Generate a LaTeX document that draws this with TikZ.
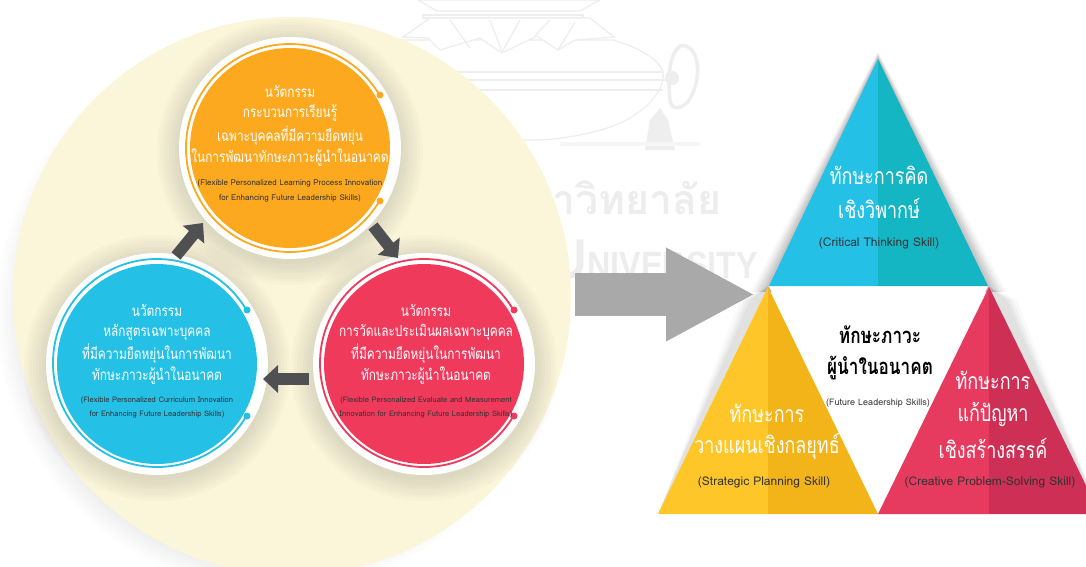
\documentclass[tikz,border=0pt]{standalone}
\usepackage{fontspec}
\setmainfont{Liberation Sans}
\newfontfamily\thaifont[Script=Thai,FakeStretch=0.78]{Loma}
\newfontfamily\wmfont[Script=Thai]{Loma}
\newfontfamily\enfont{Loma}
\newfontfamily\wmlat[FakeStretch=0.85]{Liberation Sans}
\usetikzlibrary{arrows.meta}
\definecolor{cream}{HTML}{FBF6D9}
\definecolor{corange}{HTML}{FCA91F}
\definecolor{cblue}{HTML}{25C0E6}
\definecolor{cteal}{HTML}{15B6C3}
\definecolor{cred}{HTML}{F03A5B}
\definecolor{cyel}{HTML}{FFC629}
\definecolor{cyeld}{HTML}{F2B418}
\definecolor{cpink}{HTML}{E63B5E}
\definecolor{cpinkd}{HTML}{CD2F55}
\definecolor{darrow}{HTML}{505052}
\definecolor{garrow}{HTML}{A9A9A9}
\definecolor{wm}{HTML}{EDEDED}
\definecolor{wmd}{HTML}{EEEEEE}
\definecolor{slate}{HTML}{5A6A80}
\tikzset{
  x=1pt,y=-1pt,
  halo/.style={circle,fill=white,minimum size=222pt,inner sep=0pt},
  disc/.style={circle,fill=#1,minimum size=200pt,inner sep=0pt},
  ringline/.style={draw=#1,line width=1.8pt},
  dotmark/.style={circle,fill=#1,minimum size=7pt,inner sep=0pt},
  th/.style={font=\thaifont\fontsize{15.2}{15.2}\selectfont,text=white,inner sep=0pt,anchor=center},
  en/.style={font=\enfont\fontsize{8}{8}\selectfont,text=black!80,inner sep=0pt,anchor=center},
  ens/.style={font=\enfont\fontsize{7.6}{7.6}\selectfont,text=black!80,inner sep=0pt,anchor=center},
  tth/.style={font=\thaifont\fontsize{23}{23}\selectfont,text=white,inner sep=0pt,anchor=center},
  cth/.style={font=\thaifont\bfseries\fontsize{22}{22}\selectfont,text=black,inner sep=0pt,anchor=center},
  ten/.style={font=\enfont\fontsize{12}{12}\selectfont,text=black!80,inner sep=0pt,anchor=center},
  darr/.style={line width=11.5pt,draw=darrow,-{Triangle[length=15pt,width=27pt]}},
  garr/.style={line width=43pt,draw=garrow,-{Triangle[length=89pt,width=87pt]}},
  seal/.style={draw=wmd,line width=1.3pt,fill=white},
}
\newcommand{\ringarc}[3]{%
  \draw[ringline=#3] (#1,#2) ++(-30:104) arc[start angle=-30,end angle=-330,radius=104];
}
\begin{document}
\begin{tikzpicture}
\useasboundingbox (0,0) rectangle (1086,567);
\begin{scope}
\clip (0,0) rectangle (1086,567);
\fill[white] (0,0) rectangle (1086,567);
% watermark seal
\draw[seal] (418,0) -- (600,0) -- (580,11) -- (437,11) -- cycle;
\draw[seal] (423,15) -- (583,15) -- (583,18) -- (423,18) -- cycle;
\draw[seal] (613,40) .. controls (640,48) and (660,60) .. (663,72) .. controls (666,95) and (635,122) .. (597,131) .. controls (570,138) and (550,140) .. (530,140) -- (380,140) -- (380,40) -- cycle;
\draw[seal] (403,37) -- (430,18) -- (590,18) -- (614,37) -- (575,40) -- (558,50) -- (537,36) -- (502,53) -- (480,38) -- (440,50) -- (428,38) -- cycle;
\draw[wmd,line width=1.3pt] (450,20) -- (470,48) (490,20) -- (502,52) (520,20) -- (502,52) (550,20) -- (535,36) (575,22) -- (558,50);
\draw[wmd,line width=1.6pt] (380,72) -- (663,72) (380,80) -- (665,80) (380,90) -- (663,90);
\draw[wmd,line width=3.5pt] (680,46) .. controls (697,42) and (703,72) .. (692,95) .. controls (684,112) and (670,110) .. (670,100) .. controls (668,80) and (668,56) .. (680,46) -- cycle;
\fill[wmd] (672,78) circle[radius=7];
\fill[wmd] (660,108) -- (668,120) -- (675,150) -- (645,150) -- (650,120) -- cycle;
\fill[wm!50] (560,142) rectangle (700,146);
% watermark text
\node[font=\wmfont\bfseries\fontsize{41}{41}\selectfont,text=wm,anchor=east,inner sep=0pt] (wmth) at (722,198) {มหาวิทยาลัย};
\node[font=\wmlat\bfseries,text=wm,anchor=base east,inner sep=0pt] (wmen) at (758,278) {\fontsize{56}{56}\selectfont U\fontsize{38}{38}\selectfont NIVERSITY};
% soft shadow of the big circle
\foreach \r in {258,261,...,279}{\fill[slate,opacity=.012] (276,312) circle[radius=\r];}
\fill[cream] (292,296) circle[radius=279];
% circle shadows
\foreach \cx/\cy in {290/148,157/364,424/364}{
  \foreach \r in {112,115,...,133}{\fill[black!60!cream,opacity=.022] (\cx,\cy+4) circle[radius=\r];}
}
% white halos and discs
\node[halo] (toph) at (290,148) {};
\node[halo] (lefth) at (157,364) {};
\node[halo] (righth) at (424,364) {};
\node[disc=corange] (topc) at (290,148) {};
\node[disc=cblue] (leftc) at (157,364) {};
\node[disc=cred] (rightc) at (424,364) {};
\ringarc{290}{148}{corange}
\ringarc{157}{363}{cblue}
\ringarc{424}{363}{cred}
\node[dotmark=corange] (t1) at (380,95) {};
\node[dotmark=corange] (t2) at (380,201) {};
\node[dotmark=cblue] (l1) at (247,310) {};
\node[dotmark=cblue] (l2) at (247,416) {};
\node[dotmark=cred] (r1) at (514,310) {};
\node[dotmark=cred] (r2) at (514,416) {};
% dark arrows
\coordinate (lt) at (176,256); \coordinate (tl) at (203,223);
\coordinate (tr) at (373,226); \coordinate (rt) at (398,258);
\coordinate (rl) at (309,379); \coordinate (lr) at (263,379);
\draw[darr] (lt) -- (tl);
\draw[darr] (tr) -- (rt);
\draw[darr] (rl) -- (lr);
% triangle shadow
\foreach \d/\o in {18/.03,15/.04,12/.05,9/.05,6/.06,3/.07}{
  \fill[black,opacity=\o] (878,59-.4*\d) -- (769-\d,292) -- (988+\d,292) -- cycle;
}
\foreach \d/\o in {12/.025,8/.03,5/.03,2/.03}{
  \fill[black,opacity=\o] (768,287) -- (752-\d,300) -- (658,514) -- cycle;
  \fill[black,opacity=\o] (989,287) -- (1005+\d,300) -- (1100,514) -- cycle;
}
% triangles
\fill[white] (769,286) -- (988,286) -- (878,514) -- cycle;
\fill[cblue] (878,59) -- (769,286) -- (878,286) -- cycle;
\fill[cteal] (878,59) -- (988,286) -- (878,286) -- cycle;
\fill[cyel] (768,287) -- (658,514) -- (768,514) -- cycle;
\fill[cyeld] (768,287) -- (878,514) -- (768,514) -- cycle;
\fill[cpink] (989,287) -- (878,514) -- (989,514) -- cycle;
\fill[cpinkd] (989,287) -- (1100,514) -- (989,514) -- cycle;
% big arrow
\coordinate (bs) at (575,294.5); \coordinate (be) at (755,294.5);
\draw[garr] (bs) -- (be);
% circle texts
\node[th] (a1) at (290,91) {นวัตกรรม};
\node[th] (a2) at (290,113) {กระบวนการเรียนรู้};
\node[th] (a3) at (290,136) {เฉพาะบุคคลที่มีความยืดหยุ่น};
\node[th] (a4) at (290,158) {ในการพัฒนาทักษะภาวะผู้นำในอนาคต};
\node[en] (a5) at (290,183) {(Flexible Personalized Learning Process Innovation};
\node[en] (a6) at (290,198) {for Enhancing Future Leadership Skills)};
\node[th] (b1) at (157,310) {นวัตกรรม};
\node[th] (b2) at (157,332) {หลักสูตรเฉพาะบุคคล};
\node[th] (b3) at (157,354) {ที่มีความยืดหยุ่นในการพัฒนา};
\node[th] (b4) at (157,376) {ทักษะภาวะผู้นำในอนาคต};
\node[ens] (b5) at (157,401) {(Flexible Personalized Curriculum Innovation};
\node[ens] (b6) at (157,414) {for Enhancing Future Leadership Skills)};
\node[th] (c1) at (426,310) {นวัตกรรม};
\node[th] (c2) at (426,332) {การวัดและประเมินผลเฉพาะบุคคล};
\node[th] (c3) at (426,354) {ที่มีความยืดหยุ่นในการพัฒนา};
\node[th] (c4) at (426,376) {ทักษะภาวะผู้นำในอนาคต};
\node[ens] (c5) at (426,401) {(Flexible Personalized Evaluate and Measurement};
\node[ens] (c6) at (426,414) {Innovation for Enhancing Future Leadership Skills)};
% triangle texts
\node[tth] (d1) at (879,175) {ทักษะการคิด};
\node[tth] (d2) at (879,208) {เชิงวิพากษ์};
\node[ten] (d3) at (879,243) {(Critical Thinking Skill)};
\node[cth] (e1) at (880,335) {ทักษะภาวะ};
\node[cth] (e2) at (880,368) {ผู้นำในอนาคต};
\node[en,font=\enfont\fontsize{9}{9}\selectfont] (e3) at (878,403) {(Future Leadership Skills)};
\node[tth] (f1) at (767,413) {ทักษะการ};
\node[tth] (f2) at (767,446) {วางแผนเชิงกลยุทธ์};
\node[ten] (f3) at (764,482) {(Strategic Planning Skill)};
\node[tth] (g1) at (993,380) {ทักษะการ};
\node[tth] (g2) at (993,415) {แก้ปัญหา};
\node[tth] (g3) at (993,448) {เชิงสร้างสรรค์};
\node[ten] (g4) at (990,482) {(Creative Problem-Solving Skill)};
\end{scope}
\end{tikzpicture}
\end{document}
